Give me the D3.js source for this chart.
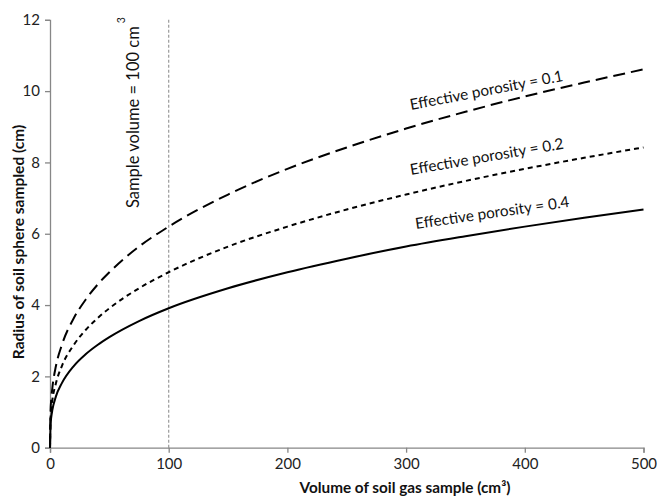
<!DOCTYPE html>
<html>
<head>
<meta charset="utf-8">
<script src="https://cdn.jsdelivr.net/npm/d3@7/dist/d3.min.js"></script>
<style>
  html, body { margin: 0; padding: 0; background: #fff; }
  svg { display: block; font-family: Lato, "Open Sans", sans-serif; }
</style>
</head>
<body>
<svg id="chart" width="657" height="498"></svg>
<script>
// Volume of soil gas sample (cm3)
const volumes = [0, 0.5, 1, 2, 5, 10, 20, 30, 40, 50, 75, 100, 150, 200, 250, 300, 350, 400, 450, 500];
// Radius of soil sphere sampled (cm)
const radiusPorosity01 = [0, 1.06, 1.34, 1.68, 2.29, 2.88, 3.63, 4.15, 4.57, 4.92, 5.64, 6.20, 7.10, 7.82, 8.42, 8.95, 9.42, 9.85, 10.24, 10.61];
const radiusPorosity02 = [0, 0.84, 1.06, 1.34, 1.81, 2.29, 2.88, 3.30, 3.63, 3.91, 4.47, 4.92, 5.64, 6.20, 6.68, 7.10, 7.48, 7.82, 8.13, 8.42];
const radiusPorosity04 = [0, 0.67, 0.84, 1.06, 1.44, 1.81, 2.29, 2.62, 2.88, 3.10, 3.55, 3.91, 4.47, 4.92, 5.30, 5.64, 5.93, 6.20, 6.45, 6.68];
const seriesLabels = ["Effective porosity = 0.1", "Effective porosity = 0.2", "Effective porosity = 0.4"];
const xTicks = [0, 100, 200, 300, 400, 500];
const yTicks = [0, 2, 4, 6, 8, 10, 12];
const sampleVolume = 100;

const svg = d3.select("#chart");
const x = d3.scaleLinear().domain([0, 500]).range([50, 643.5]);
const y = d3.scaleLinear().domain([0, 12]).range([447.7, 19.8]);
const axisColor = "#878787";

// reference line
svg.append("line")
  .attr("x1", x(sampleVolume)).attr("x2", x(sampleVolume))
  .attr("y1", y(0)).attr("y2", y(12))
  .attr("stroke", "#9a9a9a").attr("stroke-width", 1.2)
  .attr("stroke-dasharray", "3,2");

// axes
const xAxis = svg.append("g").attr("transform", `translate(0,${y(0)})`)
  .call(d3.axisBottom(x).tickValues(xTicks).tickSize(5).tickPadding(6));
const yAxis = svg.append("g").attr("transform", `translate(${x(0)},0)`)
  .call(d3.axisLeft(y).tickValues(yTicks).tickSize(5).tickPadding(5));
[xAxis, yAxis].forEach(g => {
  g.select(".domain").attr("stroke", axisColor).attr("stroke-width", 1.3);
  g.selectAll(".tick line").attr("stroke", axisColor).attr("stroke-width", 1.3);
  g.selectAll(".tick text").attr("fill", "#222").style("font-size", "15px")
    .style("font-family", "Lato, 'Open Sans', sans-serif");
});

// series
const styles = [
  { data: radiusPorosity01, dash: "12,6" },
  { data: radiusPorosity02, dash: "5,4" },
  { data: radiusPorosity04, dash: null }
];
const line = d3.line().x(d => x(d[0])).y(d => y(d[1])).curve(d3.curveMonotoneX);
styles.forEach(s => {
  svg.append("path")
    .datum(volumes.map((v, i) => [v, s.data[i]]))
    .attr("fill", "none").attr("stroke", "#000").attr("stroke-width", 2)
    .attr("stroke-dasharray", s.dash)
    .attr("d", line);
});

// series labels
const labelPos = [
  { x: 411, y: 110, a: -10.8 },
  { x: 411, y: 175, a: -9.8 },
  { x: 416, y: 229, a: -8.2 }
];
seriesLabels.forEach((t, i) => {
  const p = labelPos[i];
  svg.append("text")
    .attr("transform", `translate(${p.x},${p.y}) rotate(${p.a})`)
    .attr("fill", "#111").style("font-size", "15.3px")
    .text(t);
});

// sample volume annotation
const ann = svg.append("text")
  .attr("transform", `translate(139,208) rotate(-90)`)
  .attr("fill", "#111").style("font-size", "16.5px");
ann.append("tspan").text("Sample volume = 100 cm");
ann.append("tspan").attr("dx", 3).attr("dy", -14).style("font-size", "10.5px").text("3");

// axis titles
svg.append("text")
  .attr("x", 405).attr("y", 493)
  .attr("text-anchor", "middle").attr("fill", "#111")
  .style("font-size", "15.3px").style("font-weight", "bold")
  .text("Volume of soil gas sample (cm³)");
svg.append("text")
  .attr("transform", `translate(24,${242}) rotate(-90)`)
  .attr("text-anchor", "middle").attr("fill", "#111")
  .style("font-size", "15.5px").style("font-weight", "bold")
  .text("Radius of soil sphere sampled (cm)");
</script>
</body>
</html>
